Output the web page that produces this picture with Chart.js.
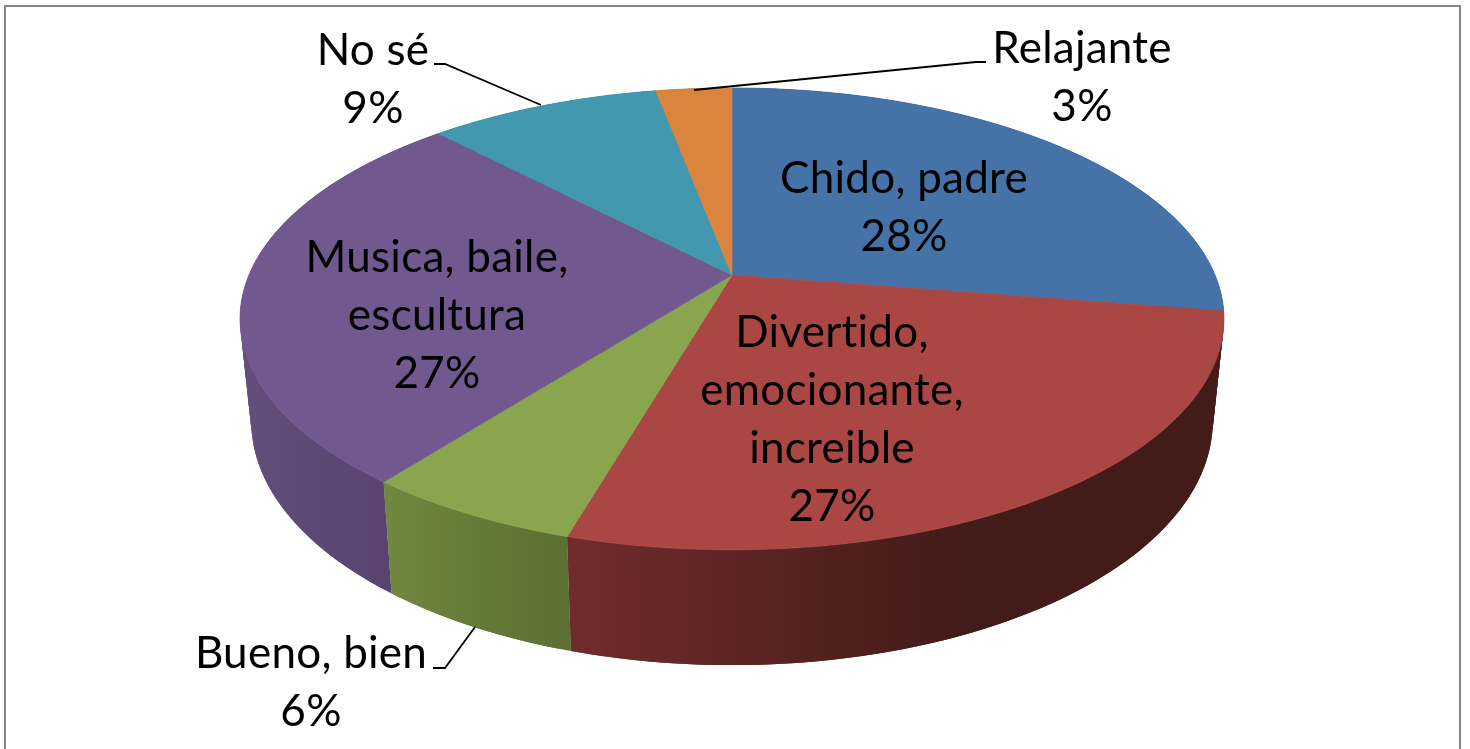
<!DOCTYPE html>
<html>
<head>
<meta charset="utf-8">
<style>
html,body{margin:0;padding:0;background:#fff;overflow:hidden}
canvas{display:block}
</style>
<script src="https://cdn.jsdelivr.net/npm/chart.js@4/dist/chart.umd.js"></script>
</head>
<body>
<canvas id="c" width="1470" height="749"></canvas>
<script>
// ---- data ----
const categories = [["Chido, padre"], ["Divertido,", "emocionante,", "increible"], ["Bueno, bien"], ["Musica, baile,", "escultura"], ["No sé"], ["Relajante"]];
const shares = [27.5, 27.0, 6.0, 27.35, 9.15, 3.0];
const topColors = ["#4572A7", "#AA4643", "#89A54E", "#71588F", "#4198AF", "#DB843D"];

// ---- layout ----
const TOP = {cx: 732, Y0: 275, A: 222.6, B: 483, k: -0.19};
const BOT = {cx: 732, Y0: 375, A: 235, B: 472, k: -0.19};
const wallStops = [
  null,
  [[571, "#702c2b"], [760, "#5a2422"], [960, "#431b18"], [1230, "#431b18"]],
  [[390, "#708740"], [480, "#647a38"], [571, "#5c7033"]],
  [[240, "#634e7c"], [330, "#5c4874"], [392, "#5a4270"]],
  null,
  null
];
const wallColors = ["#34547b", null, null, null, "#2f7080", "#a0612d"];
const paintOrder = [5, 4, 0, 3, 1, 2];
const labelPos = [
  {x: 904, y: 193}, {x: 832, y: 347}, {x: 311, y: 668},
  {x: 437, y: 272}, {x: 373, y: 65}, {x: 1082, y: 63}
];
const LINE_STEP = 58;
const leaders = [
  [[434, 64], [445, 64], [541, 105]],
  [[986, 62], [976, 62], [694, 90]],
  [[433, 668], [445, 668], [475, 627]]
];

function project(p, ang) {
  // ang is a Chart.js arc angle (radians, 0 = 3 o'clock)
  const x = Math.cos(ang), y = Math.sin(ang), d = 1 + p.k * y;
  return [p.cx + p.B * x / d, p.Y0 + p.A * y / d];
}

const pie3d = {
  id: 'pie3d',
  beforeDraw(chart) {
    const ctx = chart.ctx;
    ctx.save();
    ctx.fillStyle = '#fff';
    ctx.fillRect(0, 0, chart.width, chart.height);
    ctx.strokeStyle = '#868686';
    ctx.lineWidth = 2;
    ctx.strokeRect(5, 6, 1455, 800);
    ctx.restore();
  },
  beforeDatasetDraw(chart) {
    const ctx = chart.ctx, arcs = chart.getDatasetMeta(0).data;
    ctx.save();
    // side walls, back to front
    paintOrder.forEach(i => {
      const a = arcs[i];
      let fill = wallColors[i];
      if (!fill) {
        const stops = wallStops[i], s0 = stops[0][0], s1 = stops[stops.length - 1][0];
        const g = ctx.createLinearGradient(s0, 0, s1, 0);
        stops.forEach(s => g.addColorStop((s[0] - s0) / (s1 - s0), s[1]));
        fill = g;
      }
      ctx.fillStyle = fill;
      const step = Math.PI / 180;
      for (let t = a.startAngle; t < a.endAngle - 1e-6; t += step) {
        const t2 = Math.min(t + 2 * step, a.endAngle);
        const p1 = project(TOP, t), p2 = project(TOP, t2), p3 = project(BOT, t2), p4 = project(BOT, t);
        ctx.beginPath();
        ctx.moveTo(p1[0], p1[1]); ctx.lineTo(p2[0], p2[1]); ctx.lineTo(p3[0], p3[1]); ctx.lineTo(p4[0], p4[1]);
        ctx.closePath();
        ctx.fill();
      }
    });
    // top face
    arcs.forEach((a, i) => {
      ctx.beginPath();
      ctx.moveTo(TOP.cx, TOP.Y0);
      const n = Math.ceil((a.endAngle - a.startAngle) / (Math.PI / 360));
      for (let j = 0; j <= n; j++) {
        const p = project(TOP, a.startAngle + (a.endAngle - a.startAngle) * j / n);
        ctx.lineTo(p[0], p[1]);
      }
      ctx.closePath();
      ctx.fillStyle = topColors[i];
      ctx.strokeStyle = topColors[i];
      ctx.lineWidth = 0.7;
      ctx.lineJoin = 'round';
      ctx.fill();
      ctx.stroke();
    });
    ctx.restore();
    return false;
  },
  afterDatasetsDraw(chart) {
    const ctx = chart.ctx;
    ctx.save();
    ctx.strokeStyle = '#000';
    ctx.lineWidth = 1.8;
    leaders.forEach(l => {
      ctx.beginPath();
      l.forEach((p, i) => i ? ctx.lineTo(p[0], p[1]) : ctx.moveTo(p[0], p[1]));
      ctx.stroke();
    });
    ctx.fillStyle = '#000';
    ctx.textAlign = 'center';
    ctx.textBaseline = 'alphabetic';
    ctx.font = '44px Lato';
    ctx.letterSpacing = '0.25px';
    const total = shares.reduce((s, v) => s + v, 0);
    categories.forEach((lines, i) => {
      const pos = labelPos[i];
      const all = lines.concat(Math.round(shares[i] / total * 100) + '%');
      all.forEach((t, j) => ctx.fillText(t, pos.x, pos.y + j * LINE_STEP));
    });
    ctx.restore();
  }
};

new Chart(document.getElementById('c'), {
  type: 'pie',
  data: {
    labels: categories.map(l => l.join(' ')),
    datasets: [{data: shares, backgroundColor: topColors, borderWidth: 0}]
  },
  options: {
    responsive: false,
    animation: false,
    plugins: {legend: {display: false}, tooltip: {enabled: false}}
  },
  plugins: [pie3d]
});
</script>
</body>
</html>
